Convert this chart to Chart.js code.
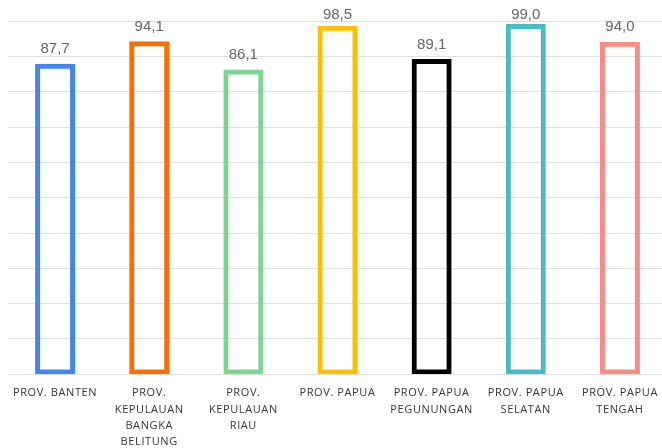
<!DOCTYPE html>
<html>
<head>
<meta charset="utf-8">
<script src="https://cdn.jsdelivr.net/npm/chart.js@4"></script>
<style>
html,body{margin:0;padding:0;overflow:hidden;background:#fff;}
#wrap{width:667px;height:448px;position:relative;}
</style>
</head>
<body>
<div id="wrap"><canvas id="c"></canvas></div>
<script>
const categories = [
  ["PROV. BANTEN"],
  ["PROV.", "KEPULAUAN", "BANGKA", "BELITUNG"],
  ["PROV.", "KEPULAUAN", "RIAU"],
  ["PROV. PAPUA"],
  ["PROV. PAPUA", "PEGUNUNGAN"],
  ["PROV. PAPUA", "SELATAN"],
  ["PROV. PAPUA", "TENGAH"]
];
const values = [87.7, 94.1, 86.1, 98.5, 89.1, 99.0, 94.0];
const barColors = ["#4285F4", "#FF6D01", "#7DD593", "#FFBF00", "#000000", "#46BDC6", "#F38D85"];
const yMin = 0, yMax = 100, yStep = 10;

const valueLabels = {
  id: 'valueLabels',
  afterDatasetsDraw(chart) {
    const ctx = chart.ctx;
    const meta = chart.getDatasetMeta(0);
    ctx.save();
    ctx.letterSpacing = '0px';
    ctx.font = '15px "Liberation Sans", Arial, sans-serif';
    ctx.fillStyle = '#666666';
    ctx.textAlign = 'center';
    ctx.textBaseline = 'middle';
    meta.data.forEach((bar, i) => {
      const y = Math.max(bar.y - 15.5, 15);
      ctx.fillText(values[i].toFixed(1).replace('.', ','), bar.x, y);
    });
    ctx.restore();
  }
};
const spacing = {
  id: 'spacing',
  beforeDraw(chart) { chart.ctx.letterSpacing = '0.6px'; },
  afterDraw(chart) { chart.ctx.letterSpacing = '0px'; }
};

new Chart(document.getElementById('c'), {
  type: 'bar',
  data: {
    labels: categories,
    datasets: [{
      data: values,
      backgroundColor: 'rgba(0,0,0,0)',
      borderColor: barColors,
      borderWidth: 3,
      borderSkipped: false,
      inflateAmount: 1,
      barThickness: 38
    }]
  },
  options: {
    responsive: true,
    maintainAspectRatio: false,
    animation: false,
    devicePixelRatio: 1,
    layout: { padding: { left: 8, right: 0, top: 21.5, bottom: 0 } },
    plugins: { legend: { display: false }, tooltip: { enabled: false } },
    scales: {
      x: {
        grid: { display: false, drawTicks: false },
        border: { display: false },
        afterFit(scale) { scale.height = 74; },
        ticks: {
          color: '#363636',
          font: { family: '"Open Sans", sans-serif', size: 11, lineHeight: 1.48 },
          padding: 11,
          maxRotation: 0,
          autoSkip: false
        }
      },
      y: {
        min: yMin, max: yMax,
        grid: { color: '#e0e0e0', drawTicks: false, lineWidth: 1 },
        border: { display: false },
        ticks: { display: false, stepSize: yStep }
      }
    }
  },
  plugins: [valueLabels, spacing]
});
</script>
</body>
</html>
